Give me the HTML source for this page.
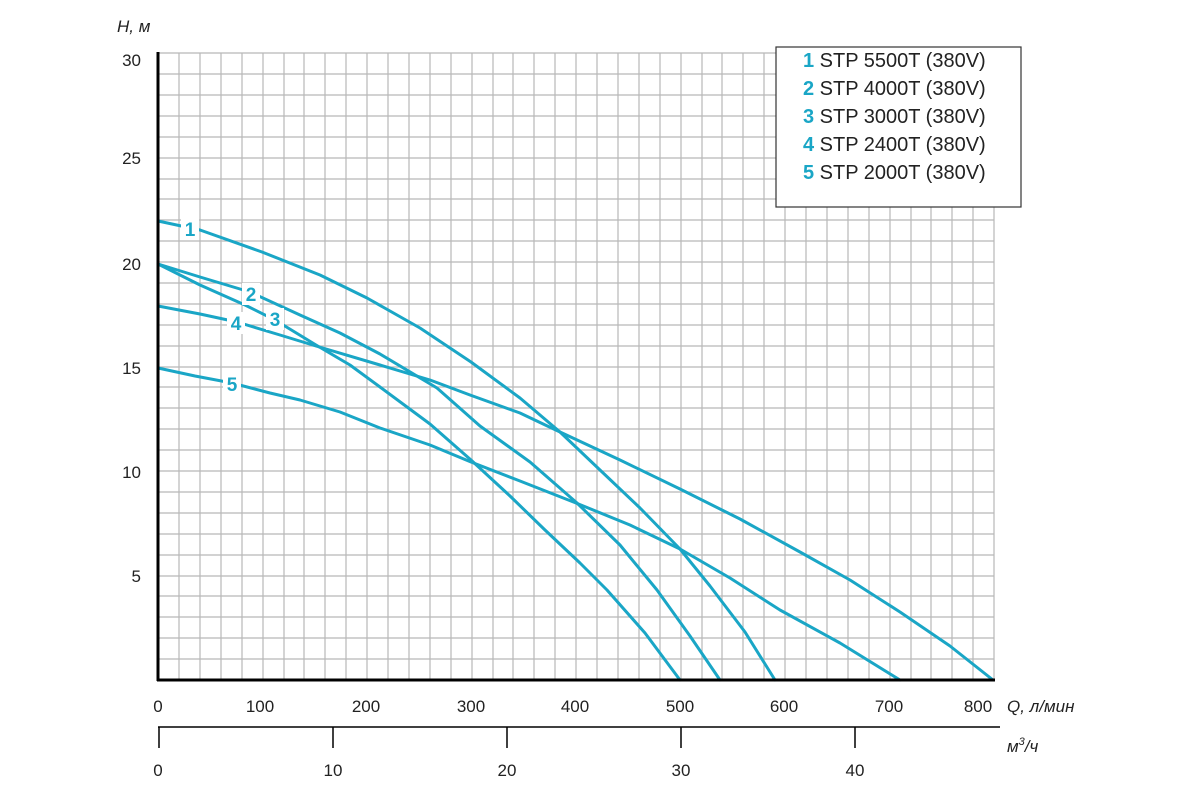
<!DOCTYPE html>
<html><head><meta charset="utf-8"><style>
html,body{margin:0;padding:0;background:#fff;}
svg{display:block;font-family:"Liberation Sans",sans-serif;}
</style></head><body>
<svg width="1200" height="800" viewBox="0 0 1200 800">
<g stroke="#b8b8b8" stroke-width="1.2">
<path d="
M179 53V680 M200 53V680 M221 53V680 M242 53V680 M263 53V680 M284 53V680 M304 53V680 M325 53V680 M346 53V680 M367 53V680
M388 53V680 M409 53V680 M430 53V680 M451 53V680 M472 53V680 M493 53V680 M513 53V680 M534 53V680 M555 53V680 M576 53V680
M597 53V680 M618 53V680 M639 53V680 M660 53V680 M681 53V680 M702 53V680 M722 53V680 M743 53V680 M764 53V680 M785 53V680
M806 53V680 M827 53V680 M848 53V680 M869 53V680 M890 53V680 M911 53V680 M931 53V680 M952 53V680 M973 53V680 M994 53V680
M158 53H994 M158 74H994 M158 95H994 M158 116H994 M158 137H994 M158 158H994 M158 179H994 M158 199H994 M158 220H994 M158 241H994
M158 262H994 M158 283H994 M158 304H994 M158 325H994 M158 346H994 M158 367H994 M158 387H994 M158 408H994 M158 429H994 M158 450H994
M158 471H994 M158 492H994 M158 513H994 M158 534H994 M158 555H994 M158 576H994 M158 596H994 M158 617H994 M158 638H994 M158 659H994" fill="none"/>
</g>
<rect x="776" y="47" width="245" height="160" fill="#fff" stroke="#333" stroke-width="1.2"/>
<g font-size="20" fill="#222">
<text x="803" y="67"><tspan fill="#1aa6c6" font-weight="bold">1</tspan> STP 5500T (380V)</text>
<text x="803" y="95"><tspan fill="#1aa6c6" font-weight="bold">2</tspan> STP 4000T (380V)</text>
<text x="803" y="123"><tspan fill="#1aa6c6" font-weight="bold">3</tspan> STP 3000T (380V)</text>
<text x="803" y="151"><tspan fill="#1aa6c6" font-weight="bold">4</tspan> STP 2400T (380V)</text>
<text x="803" y="179"><tspan fill="#1aa6c6" font-weight="bold">5</tspan> STP 2000T (380V)</text>
</g>
<g fill="none" stroke="#1aa6c6" stroke-width="3" stroke-linejoin="round" stroke-linecap="round">
<polyline points="158,221 200,230 262,252 320,275 367,298 420,328 471,362 520,398 560,432 600,470 640,508 680,549 710,586 745,632 775,680"/>
<polyline points="158,264 200,277 250,292 300,315 340,333 380,354 437,388 480,426 530,462 577,503 620,545 657,590 690,636 720,680"/>
<polyline points="158,264 200,285 245,305 275,320 316,345 350,365 380,387 430,424 471,460 510,496 545,530 580,563 607,590 645,633 680,680"/>
<polyline points="158,306 200,314 237,322 280,335 316,346 380,365 430,380 470,395 520,413 560,432 620,460 680,489 740,519 800,552 850,580 900,612 950,646 993,680"/>
<polyline points="158,368 195,376 232,383 270,393 300,400 340,412 380,428 430,445 471,462 520,481 576,503 630,525 680,549 730,578 780,610 840,643 900,680"/>
</g>
<g font-size="19" font-weight="bold" fill="#1aa6c6" text-anchor="middle">
<rect x="181" y="218" width="18" height="22" fill="#fff"/><text x="190" y="236">1</text>
<rect x="242" y="283" width="18" height="22" fill="#fff"/><text x="251" y="301">2</text>
<rect x="266" y="308" width="18" height="22" fill="#fff"/><text x="275" y="326">3</text>
<rect x="227" y="312" width="18" height="22" fill="#fff"/><text x="236" y="330">4</text>
<rect x="223" y="373" width="18" height="22" fill="#fff"/><text x="232" y="391">5</text>
</g>
<g stroke="#000" fill="none">
<path d="M158 52V681" stroke-width="3"/>
<path d="M157 680H995" stroke-width="3"/>
<path d="M158 727H1000" stroke-width="1.5"/>
<path d="M159 727V748 M333 727V748 M507 727V748 M681 727V748 M855 727V748" stroke-width="1.5"/>
</g>
<g font-size="17" fill="#222">
<g text-anchor="end">
<text x="141" y="66">30</text><text x="141" y="164">25</text><text x="141" y="270">20</text>
<text x="141" y="374">15</text><text x="141" y="478">10</text><text x="141" y="582">5</text>
</g>
<g text-anchor="middle">
<text x="158" y="712">0</text><text x="260" y="712">100</text><text x="366" y="712">200</text><text x="471" y="712">300</text>
<text x="575" y="712">400</text><text x="680" y="712">500</text><text x="784" y="712">600</text><text x="889" y="712">700</text><text x="978" y="712">800</text>
<text x="158" y="776">0</text><text x="333" y="776">10</text><text x="507" y="776">20</text><text x="681" y="776">30</text><text x="855" y="776">40</text>
</g>
<text x="117" y="32" font-style="italic">H, м</text>
<text x="1007" y="712" font-style="italic">Q, л/мин</text>
<text x="1007" y="752" font-style="italic">м<tspan font-size="11" dy="-7">3</tspan><tspan dy="7">/ч</tspan></text>
</g>
</svg>
</body></html>
